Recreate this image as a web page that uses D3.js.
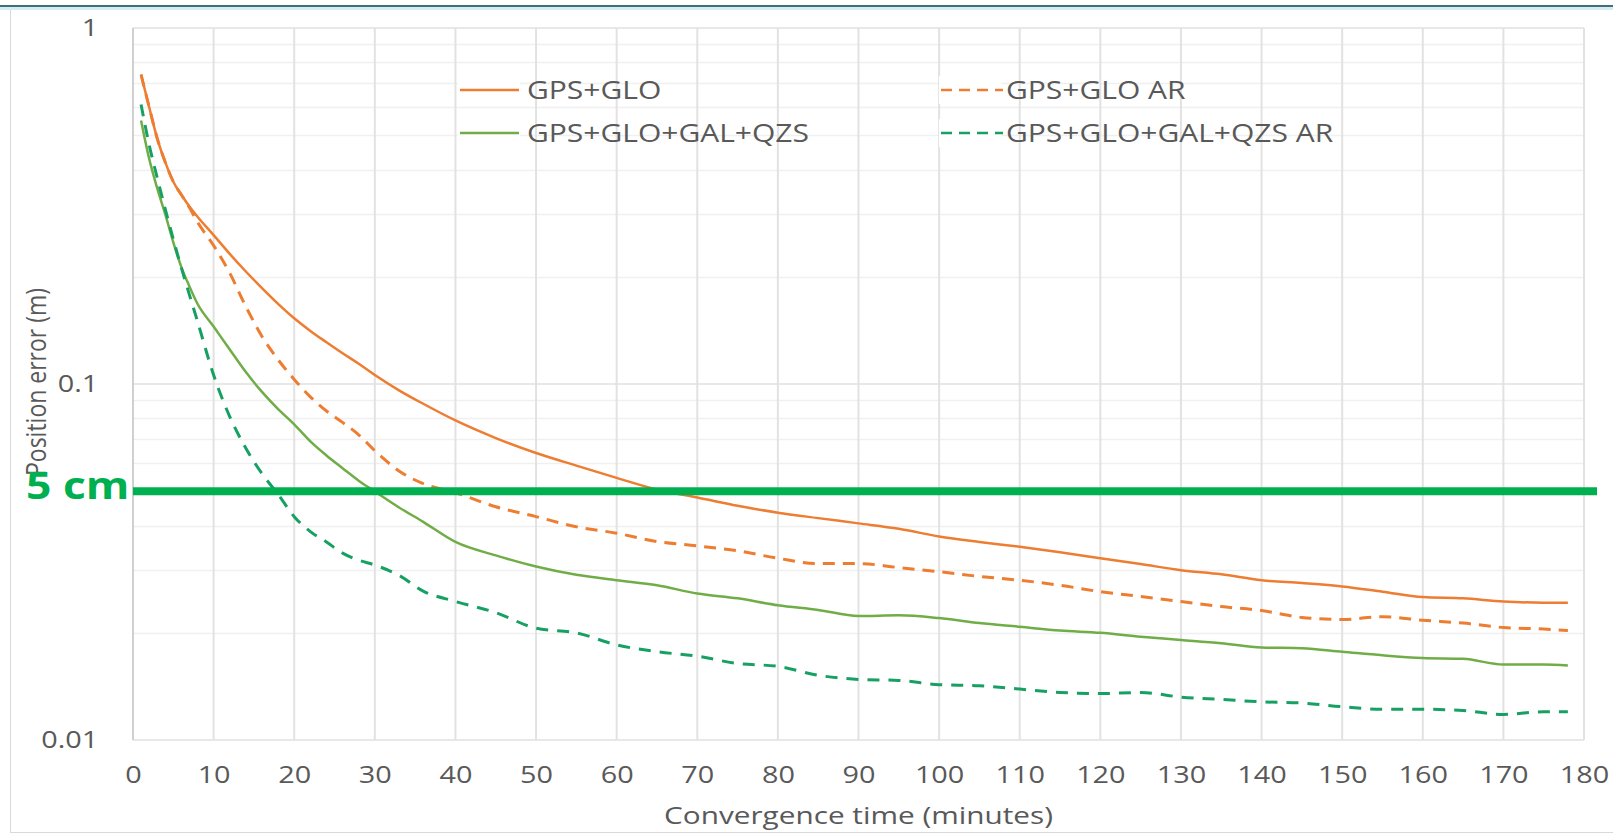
<!DOCTYPE html>
<html>
<head>
<meta charset="utf-8">
<script src="https://cdn.jsdelivr.net/npm/d3@7"></script>
<style>
body{margin:0;background:#fff;overflow:hidden;}
svg{display:block;font-family:"Open Sans",sans-serif;}
</style>
</head>
<body>
<div id="container"></div>
<script>
// values (position error in metres)
const minutes = [1,2,3,4,5,6,7,8,10,12,14,16,18,20,22,24,26,28,30,33,36,40,45,50,55,60,65,70,75,80,85,90,95,100,105,110,115,120,125,130,135,140,145,150,155,160,165,170,175,178];
const gpsGlo = [0.74,0.60,0.49,0.42,0.37,0.34,0.315,0.295,0.262,0.232,0.207,0.186,0.168,0.153,0.141,0.131,0.122,0.114,0.106,0.096,0.088,0.079,0.0705,0.064,0.059,0.0545,0.0505,0.048,0.0455,0.0435,0.042,0.0406,0.0392,0.0373,0.036,0.0349,0.0337,0.0324,0.0312,0.0300,0.0292,0.0281,0.0276,0.0270,0.0261,0.0252,0.0250,0.0245,0.0243,0.0243];
const gpsGloAR = [0.74,0.60,0.49,0.42,0.37,0.34,0.313,0.285,0.245,0.205,0.165,0.136,0.117,0.103,0.092,0.084,0.078,0.072,0.065,0.057,0.0525,0.0495,0.0452,0.0424,0.0397,0.0381,0.0361,0.0351,0.034,0.0324,0.0313,0.0313,0.0305,0.0297,0.0288,0.0281,0.0272,0.0261,0.0253,0.0245,0.0237,0.0231,0.0221,0.0218,0.0222,0.0217,0.0213,0.0207,0.0205,0.0203];
const gpsGloGalQzs = [0.55,0.43,0.355,0.30,0.25,0.213,0.188,0.168,0.145,0.125,0.108,0.095,0.085,0.077,0.069,0.063,0.058,0.0535,0.0499,0.045,0.041,0.036,0.0330,0.0307,0.0291,0.0281,0.0272,0.0258,0.0250,0.0239,0.0232,0.0223,0.0224,0.0220,0.0213,0.0208,0.0203,0.0200,0.0195,0.0191,0.0187,0.0182,0.0181,0.0177,0.0173,0.0170,0.0169,0.0163,0.0163,0.0162];
const gpsGloGalQzsAR = [0.61,0.47,0.38,0.31,0.255,0.212,0.178,0.15,0.106,0.081,0.066,0.056,0.049,0.0424,0.0385,0.036,0.0335,0.032,0.031,0.029,0.0262,0.0245,0.0228,0.0206,0.0200,0.0185,0.0177,0.0172,0.0164,0.0161,0.0152,0.0148,0.0147,0.0143,0.0142,0.0139,0.0136,0.0135,0.0136,0.0132,0.0130,0.0128,0.0127,0.0124,0.0122,0.0122,0.0121,0.0118,0.0120,0.0120];

const seriesNames = ["GPS+GLO", "GPS+GLO AR", "GPS+GLO+GAL+QZS", "GPS+GLO+GAL+QZS AR"];
const seriesValues = [gpsGlo, gpsGloAR, gpsGloGalQzs, gpsGloGalQzsAR];
const seriesColors = ["#ED7D31", "#ED7D31", "#70AD47", "#17A063"];
const seriesDash = [null, "12,8", null, "12,9"];

const xTicks = d3.range(0, 181, 10);
const yTicks = [0.01, 0.1, 1];
const yTickLabels = ["0.01", "0.1", "1"];
const yMinor = [0.02,0.03,0.04,0.05,0.06,0.07,0.08,0.09,0.2,0.3,0.4,0.5,0.6,0.7,0.8,0.9];
const thresholdValue = 0.05;
const thresholdLabel = "5 cm";
const xTitle = "Convergence time (minutes)";
const yTitle = "Position error (m)";

const width = 1613, height = 837;
const plotLeft = 133, plotRight = 1584, plotTop = 28, plotBottom = 740;
const stretch = 1.2; // text in the picture is drawn wide

const svg = d3.select("#container").append("svg")
  .attr("width", width)
  .attr("height", height);

// outer frame
svg.append("rect")
  .attr("x", 10.5).attr("y", 8.5)
  .attr("width", width + 20).attr("height", 824)
  .attr("fill", "none").attr("stroke", "#d9d9d9");
svg.append("line")
  .attr("x1", 0).attr("x2", width).attr("y1", 6).attr("y2", 6)
  .attr("stroke", "#3f6f7c").attr("stroke-width", 2);
svg.append("line")
  .attr("x1", 0).attr("x2", width).attr("y1", 8.5).attr("y2", 8.5)
  .attr("stroke", "#d6ecf5").attr("stroke-width", 3);

const x = d3.scaleLinear().domain([0, 180]).range([plotLeft, plotRight]);
const y = d3.scaleLog().domain([0.01, 1]).range([plotBottom, plotTop]);

// grid
svg.append("g").selectAll("line").data(yMinor).join("line")
  .attr("x1", plotLeft).attr("x2", plotRight)
  .attr("y1", d => Math.round(y(d)) + 0.5).attr("y2", d => Math.round(y(d)) + 0.5)
  .attr("stroke", "#f0f0f0").attr("stroke-width", 1.5);
svg.append("g").selectAll("line").data(yTicks).join("line")
  .attr("x1", plotLeft).attr("x2", plotRight)
  .attr("y1", d => y(d)).attr("y2", d => y(d))
  .attr("stroke", "#e0e0e0").attr("stroke-width", 1.5);
svg.append("g").selectAll("line").data(xTicks).join("line")
  .attr("x1", d => x(d)).attr("x2", d => x(d))
  .attr("y1", plotTop).attr("y2", plotBottom)
  .attr("stroke", d => d === 0 ? "#d0d0d0" : "#e2e2e2").attr("stroke-width", 2);

// axes
const xAxis = svg.append("g")
  .attr("transform", `translate(0,${plotBottom})`)
  .call(d3.axisBottom(x).tickValues(xTicks).tickSize(0).tickPadding(26));
xAxis.select(".domain").remove();
xAxis.selectAll("text")
  .attr("font-size", 24).attr("fill", "#595959")
  .attr("font-family", "Open Sans")
  .attr("transform", `scale(${stretch},1)`);

const yAxis = svg.append("g")
  .attr("transform", `translate(${plotLeft},0)`)
  .call(d3.axisLeft(y).tickValues(yTicks).tickFormat((d, i) => yTickLabels[i]).tickSize(0).tickPadding(29));
yAxis.select(".domain").remove();
yAxis.selectAll("text")
  .attr("font-size", 24).attr("fill", "#595959")
  .attr("font-family", "Open Sans")
  .attr("transform", `scale(${stretch},1)`);

svg.append("text")
  .attr("transform", `translate(${(plotLeft + plotRight) / 2},824) scale(1.24,1)`)
  .attr("text-anchor", "middle")
  .attr("font-size", 24).attr("fill", "#595959")
  .text(xTitle);

svg.append("text")
  .attr("transform", `translate(46,382) rotate(-90) scale(1,${stretch})`)
  .attr("text-anchor", "middle")
  .attr("font-size", 23).attr("fill", "#595959")
  .text(yTitle);

// curves
const line = d3.line()
  .x(d => x(d[0]))
  .y(d => y(d[1]))
  .curve(d3.curveMonotoneX);

svg.append("g").selectAll("path").data(seriesValues).join("path")
  .attr("d", vals => line(minutes.map((m, i) => [m, vals[i]])))
  .attr("fill", "none")
  .attr("stroke", (d, i) => seriesColors[i])
  .attr("stroke-width", (d, i) => seriesDash[i] ? 3 : 2.5)
  .attr("stroke-dasharray", (d, i) => seriesDash[i]);

// 5 cm threshold
svg.append("line")
  .attr("x1", plotLeft).attr("x2", 1597)
  .attr("y1", y(thresholdValue)).attr("y2", y(thresholdValue))
  .attr("stroke", "#00B050").attr("stroke-width", 8);
svg.append("text")
  .attr("transform", `translate(26,499) scale(${stretch},1)`)
  .attr("font-size", 37).attr("font-weight", "bold").attr("fill", "#00B050")
  .text(thresholdLabel);

// legend
const legendPos = [[460, 90], [941, 90], [460, 133], [941, 133]];
const legend = svg.append("g").selectAll("g").data(seriesNames).join("g")
  .attr("transform", (d, i) => `translate(${legendPos[i][0]},${legendPos[i][1]})`);
legend.append("rect")
  .attr("x", -2).attr("y", -14).attr("width", 62).attr("height", 28)
  .attr("fill", "#fff");
legend.append("line")
  .attr("x1", 0).attr("x2", (d, i) => i % 2 ? 62 : 59)
  .attr("stroke", (d, i) => seriesColors[i])
  .attr("stroke-width", 2.5)
  .attr("stroke-dasharray", (d, i) => seriesDash[i] ? "11,7" : null);
legend.append("text")
  .attr("transform", (d, i) => `translate(${i % 2 ? 65 : 67},0) scale(${stretch},1)`)
  .attr("dy", "0.36em")
  .attr("font-size", 25).attr("fill", "#595959")
  .text(d => d);
</script>
</body>
</html>
